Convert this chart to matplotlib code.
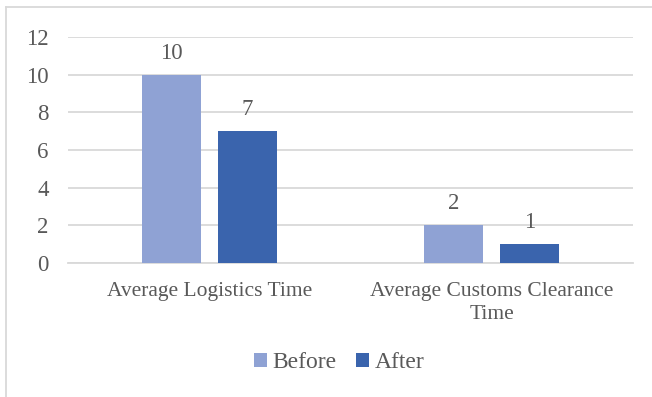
import matplotlib

matplotlib.use("Agg")
import matplotlib.pyplot as plt
import numpy as np
from matplotlib.lines import Line2D
from matplotlib.patches import Patch

categories = ["Average Logistics Time", "Average Customs Clearance\nTime"]
series_names = ["Before", "After"]
before = [10, 2]
after = [7, 1]

colours = ["#8FA2D4", "#3A64AD"]
text_colour = "#595959"
grid_colour = "#D9D9D9"

plt.rcParams["font.family"] = ["Liberation Serif", "DejaVu Serif"]

fig = plt.figure(figsize=(6.52, 3.97), dpi=100, facecolor="white")
ax = fig.add_axes([68 / 652, 134 / 397, 565 / 652, 226 / 397])

x = np.arange(len(categories))
width = 0.209
gap = 0.06
offset = (width + gap) / 2

for vals, shift, colour, name in [(before, -offset, colours[0], series_names[0]),
                                  (after, offset, colours[1], series_names[1])]:
    bars = ax.bar(x + shift, vals, width, color=colour, label=name, zorder=3)
    for rect, v in zip(bars, vals):
        ax.annotate(f"{v}", (rect.get_x() + rect.get_width() / 2, v),
                    xytext=(0, 8), textcoords="offset points",
                    ha="center", va="bottom", fontsize=16.5, color=text_colour)

ax.set_xlim(-0.5, len(categories) - 0.5)
ax.set_ylim(0, 12)
ax.set_yticks(range(0, 13, 2))
ax.set_xticks(x)
ax.set_xticklabels(categories, linespacing=1.25, fontsize=15.5)
ax.tick_params(axis="both", length=0, labelcolor=text_colour)
ax.tick_params(axis="y", pad=14, labelsize=16.5)
ax.tick_params(axis="x", pad=14)
ax.yaxis.grid(True, color=grid_colour, linewidth=1.3, zorder=0)
ax.set_axisbelow(True)
for side in ("top", "right", "left"):
    ax.spines[side].set_visible(False)
ax.spines["bottom"].set_color(grid_colour)
ax.spines["bottom"].set_linewidth(1.3)

handles = [Patch(facecolor=c, label=n) for c, n in zip(colours, series_names)]
fig.legend(handles=handles, loc="center", bbox_to_anchor=(339 / 652, 1 - 363 / 397),
           ncol=2, frameon=False, fontsize=17, labelcolor=text_colour,
           handlelength=0.55, handleheight=0.55, handletextpad=0.25,
           columnspacing=0.8)

# chart frame
fig.add_artist(Line2D([6 / 652, 1], [1 - 7 / 397] * 2, color=grid_colour, lw=1.3))
fig.add_artist(Line2D([6 / 652] * 2, [0, 1 - 7 / 397], color=grid_colour, lw=1.3))

fig.savefig("out.png", dpi=100, facecolor="white")
